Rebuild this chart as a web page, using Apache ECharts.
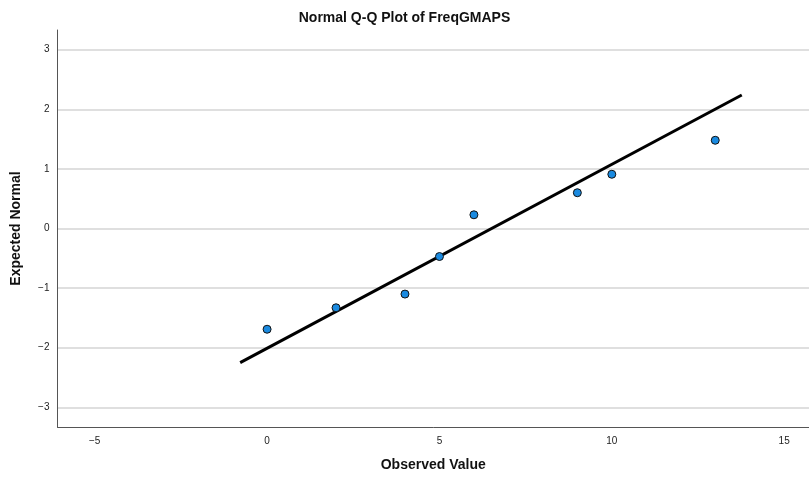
<!DOCTYPE html>
<html><head><meta charset="utf-8">
<script src="https://cdn.jsdelivr.net/npm/echarts@6/dist/echarts.min.js"></script>
<style>html,body{margin:0;padding:0;background:#fff}#c{width:809px;height:477px}</style>
</head><body><div id="c"></div>
<script>
const observed = [0, 2, 4, 5, 6, 9, 10, 13];
const expected = [-1.69, -1.33, -1.10, -0.47, 0.23, 0.60, 0.91, 1.48];
const lineX = [-0.78, 13.77];
const lineY = [-2.25, 2.24];
const xTicks = [-5, 0, 5, 10, 15];
const yTicks = [-3, -2, -1, 0, 1, 2, 3];

const chart = echarts.init(document.getElementById('c'));
const ff = '"Liberation Sans", Arial, sans-serif';
chart.setOption({
  animation: false,
  title: {text: 'Normal Q-Q Plot of FreqGMAPS', left: 'center', top: 6,
    textStyle: {fontFamily: ff, fontWeight: 'bold', fontSize: 14, color: '#111'}},
  grid: {left: 57.5, right: 0, top: 30, bottom: 48},
  xAxis: {type: 'value', min: -6.08, max: 15.72,
    name: 'Observed Value', nameLocation: 'middle', nameGap: 31,
    nameTextStyle: {fontFamily: ff, fontWeight: 'bold', fontSize: 14, color: '#111'},
    axisLine: {show: true, onZero: false, lineStyle: {color: '#555', width: 1}},
    axisTick: {show: false, customValues: xTicks},
    axisLabel: {customValues: xTicks, fontFamily: ff, fontSize: 10, color: '#222', margin: 9, formatter: v => String(v).replace('-', '\u2212')},
    splitLine: {show: false}},
  yAxis: {type: 'value', min: -3.33, max: 3.33,
    name: 'Expected Normal', nameLocation: 'middle', nameGap: 34,
    nameTextStyle: {fontFamily: ff, fontWeight: 'bold', fontSize: 14, color: '#111'},
    axisLine: {show: true, onZero: false, lineStyle: {color: '#555', width: 1}},
    axisTick: {show: false, customValues: yTicks},
    axisLabel: {customValues: yTicks, fontFamily: ff, fontSize: 10, color: '#222', margin: 8, formatter: v => String(v).replace('-', '\u2212')},
    splitLine: {show: true, lineStyle: {color: '#d4d4d4', width: 1.5}}},
  series: [
    {type: 'line', data: lineX.map((x, i) => [x, lineY[i]]), symbol: 'none',
      lineStyle: {color: '#000', width: 3}, z: 2},
    {type: 'scatter', data: observed.map((x, i) => [x, expected[i]]), symbol: 'circle', symbolSize: 8,
      itemStyle: {color: '#1a8ae0', borderColor: '#111', borderWidth: 1, opacity: 1}, z: 3}
  ]
});
</script></body></html>
